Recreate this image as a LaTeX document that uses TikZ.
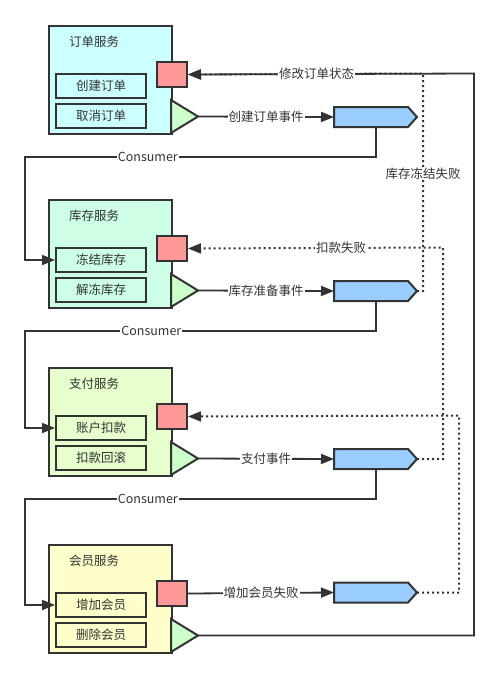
\documentclass[tikz,border=0pt]{standalone}
\usepackage{fontspec}
\setmainfont{Noto Sans CJK SC}
\usetikzlibrary{arrows.meta}

\definecolor{ink}{HTML}{333333}
\definecolor{orderfill}{HTML}{CCFFFF}
\definecolor{stockfill}{HTML}{CCFFE6}
\definecolor{payfill}{HTML}{E6FFCC}
\definecolor{memberfill}{HTML}{FFFFCC}
\definecolor{failfill}{HTML}{FF9999}
\definecolor{portfill}{HTML}{CCFFCC}
\definecolor{eventfill}{HTML}{99CCFF}

\begin{document}
\begin{tikzpicture}[x=1pt, y=-1pt, >={Triangle[length=13pt,width=10pt]},
                    font=\fontsize{12.5}{14}\selectfont, text=ink]
            \tikzstyle{service} = [draw=ink, line width=2pt, anchor=north west, minimum width=123pt, minimum height=108pt, inner sep=0pt]
            \tikzstyle{action} = [draw=ink, line width=2pt, anchor=north west, minimum width=90pt, minimum height=24pt, inner sep=0pt]
            \tikzstyle{fail} = [draw=ink, line width=2pt, fill=failfill, anchor=north west, minimum width=30pt, minimum height=25pt, inner sep=0pt]
            \tikzstyle{port} = [draw=ink, line width=2pt, fill=portfill, line join=miter]
            \tikzstyle{event} = [draw=ink, line width=2pt, fill=eventfill]
            \tikzstyle{flow} = [draw=ink, line width=1.8pt, ->]
            \tikzstyle{failflow} = [flow, line width=2pt, dash pattern=on 2pt off 3pt]
            \tikzstyle{lbl} = [fill=white, inner sep=1pt]
            \useasboundingbox (0,0) rectangle (499,678);
            % order service
            \node[service, fill=orderfill] (order) at (48,25) {};
            \node (ordertitle) at (94,42) {订单服务};
            \node[action] (create) at (55,73) {创建订单};
            \node[action] (cancel) at (55,103) {取消订单};
            \node[fail] (fail1) at (156,61) {};
            \draw[port] (171,100) -- (198,116.5) -- (171,133) -- cycle;
            \coordinate (pub1) at (198,116.5);
            \draw[event] (334,107) -- (408,107) -- (417,117) -- (408,127) -- (334,127) -- cycle;
            \coordinate (evt1in) at (334,117);
            \coordinate (evt1bot) at (376,127);
            % stock service
            \node[service, fill=stockfill] (stock) at (48,199) {};
            \node (stocktitle) at (94,216) {库存服务};
            \node[action] (freeze) at (55,247) {冻结库存};
            \node[action] (unfreeze) at (55,277) {解冻库存};
            \node[fail] (fail2) at (156,235) {};
            \draw[port] (171,274) -- (198,290.5) -- (171,307) -- cycle;
            \coordinate (pub2) at (198,290.5);
            \draw[event] (334,281) -- (408,281) -- (417,291) -- (408,301) -- (334,301) -- cycle;
            \coordinate (evt2in) at (334,291);
            \coordinate (evt2tip) at (417,291);
            \coordinate (evt2bot) at (376,301);
            % pay service
            \node[service, fill=payfill] (pay) at (48,367) {};
            \node (paytitle) at (94,384) {支付服务};
            \node[action] (debit) at (55,415) {账户扣款};
            \node[action] (rollback) at (55,445) {扣款回滚};
            \node[fail] (fail3) at (156,403) {};
            \draw[port] (171,442) -- (198,458.5) -- (171,475) -- cycle;
            \coordinate (pub3) at (198,458.5);
            \draw[event] (334,449) -- (408,449) -- (417,459) -- (408,469) -- (334,469) -- cycle;
            \coordinate (evt3in) at (334,459);
            \coordinate (evt3tip) at (417,459);
            \coordinate (evt3bot) at (376,469);
            % member service
            \node[service, fill=memberfill] (member) at (48,544) {};
            \node (membertitle) at (94,561) {会员服务};
            \node[action] (addmember) at (55,592) {增加会员};
            \node[action] (delmember) at (55,622) {删除会员};
            \node[fail] (fail4) at (156,580) {};
            \draw[port] (171,619) -- (198,635.5) -- (171,652) -- cycle;
            \coordinate (pub4) at (198,635.5);
            \draw[event] (334,582.5) -- (408,582.5) -- (417,592.5) -- (408,602.5) -- (334,602.5) -- cycle;
            \coordinate (evt4in) at (334,592.5);
            \coordinate (evt4tip) at (417,592.5);
            % publish
            \draw[flow] (pub1) -- node[lbl]{创建订单事件} (evt1in);
            \draw[flow] (pub2) -- node[lbl]{库存准备事件} (evt2in);
            \draw[flow] (pub3) -- node[lbl]{支付事件} (evt3in);
            \draw[flow] (fail4.east) -- node[lbl]{增加会员失败} (evt4in);
            % consume
            \draw[flow] (evt1bot) -- (376,157) -- node[lbl, pos=0.65]{Consumer} (25,157) |- (freeze.west);
            \draw[flow] (evt2bot) -- (376,331) -- node[lbl, pos=0.64]{Consumer} (25,331) |- (debit.west);
            \draw[flow] (evt3bot) -- (376,499) -- node[lbl, pos=0.65]{Consumer} (25,499) |- (addmember.west);
            % compensate
            \draw[failflow] (evt4tip) -- (459,592.5) -- (459,415.5) -- (fail3.east);
            \draw[failflow] (evt3tip) -- (443,459) -- (443,247.5) -- node[lbl, pos=0.4]{扣款失败} (fail2.east);
            \draw[failflow] (evt2tip) -- (423,291) -- node[lbl, pos=0.54]{库存冻结失败} (423,73.5) -- (fail1.east);
            \draw[flow] (pub4) -- (474,635.5) -- (474,73.5) -- node[lbl, pos=0.55]{修改订单状态} (fail1.east);
        \end{tikzpicture}
\end{document}
